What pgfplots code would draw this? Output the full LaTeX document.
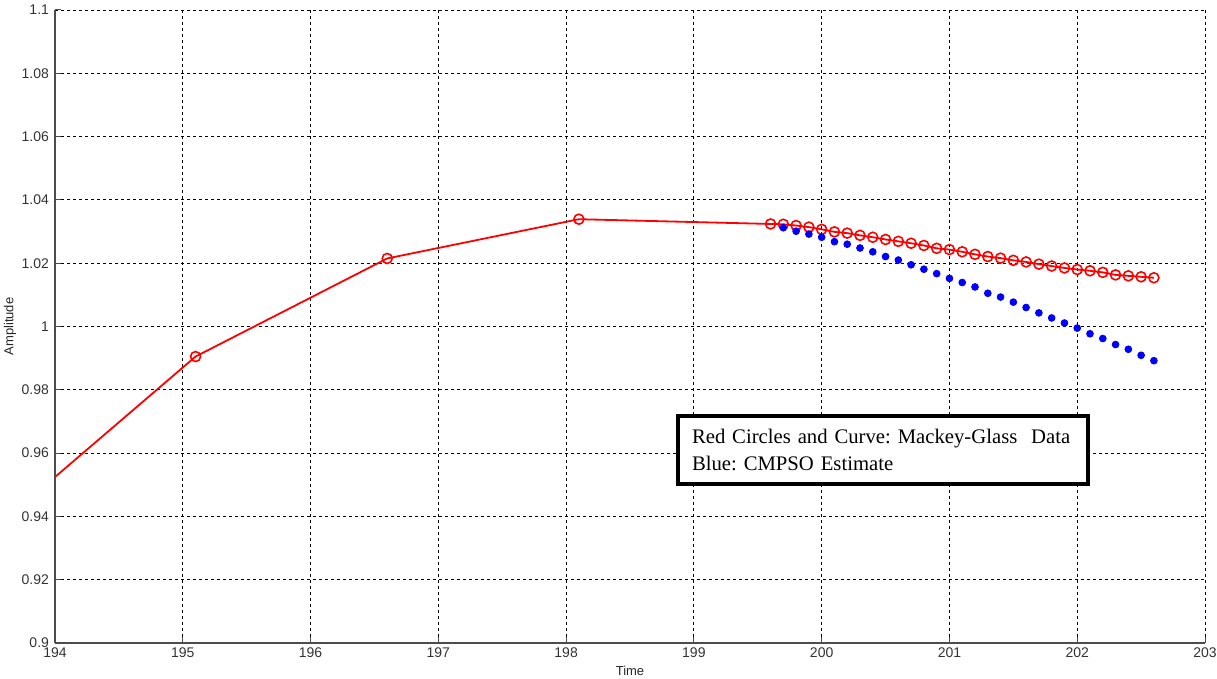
\documentclass[border=0pt]{standalone}
\usepackage{pgfplots}
\pgfplotsset{compat=1.18}
\usepackage{fontspec}
\setmainfont{Liberation Sans}
\newfontfamily\timesfont{Liberation Serif}
\frenchspacing
\begin{document}
\begin{tikzpicture}
\begin{axis}[
  width=575pt, height=316.5pt, scale only axis,
  xmin=194, xmax=203, ymin=0.9, ymax=1.1,
  xtick={194,195,...,203},
  ytick={0.9,0.92,0.94,0.96,0.98,1,1.02,1.04,1.06,1.08,1.1},
  yticklabels={0.9,0.92,0.94,0.96,0.98,1,1.02,1.04,1.06,1.08,1.1},
  axis lines=left, axis line style={-, draw=black!70, line width=0.6pt},
  tick align=inside, major tick length=3pt,
  tick style={black!70, line width=0.5pt},
  grid=major,
  major grid style={black, line width=0.4pt, dash pattern=on 1.5pt off 1.5pt},
  ticklabel style={font=\fontsize{7}{8}\selectfont, text=black!80},
  /pgf/number format/assume math mode=true,
  xticklabel style={yshift=1pt},
  yticklabel style={xshift=0.5pt},
  xlabel={Time}, ylabel={Amplitude},
  label style={font=\fontsize{6.5}{8}\selectfont, text=black!85},
  xlabel style={yshift=3pt},
  ylabel style={yshift=-4pt},
  clip=true,
]
\addplot[red, line width=0.9pt, mark=o, mark size=2.5pt, mark options={line width=0.8pt}] coordinates {
(193.6,0.9386) (195.1,0.9905) (196.6,1.0215) (198.1,1.0339)
(199.6,1.0324) (199.7,1.0323) (199.8,1.0319) (199.9,1.0314) (200.0,1.0307)
(200.1,1.0299) (200.2,1.0295) (200.3,1.0288) (200.4,1.0282) (200.5,1.0275)
(200.6,1.0269) (200.7,1.0263) (200.8,1.0256) (200.9,1.0247) (201.0,1.0243)
(201.1,1.0236) (201.2,1.0228) (201.3,1.0221) (201.4,1.0216) (201.5,1.0209)
(201.6,1.0204) (201.7,1.0197) (201.8,1.0191) (201.9,1.0185) (202.0,1.0180)
(202.1,1.0176) (202.2,1.0171) (202.3,1.0163) (202.4,1.0160) (202.5,1.0157)
(202.6,1.0154)
};
\addplot[only marks, blue, mark=*, mark size=1.7pt] coordinates {
(199.7,1.0312) (199.8,1.0301) (199.9,1.0292) (200.0,1.0282)
(200.1,1.0268) (200.2,1.0260) (200.3,1.0248) (200.4,1.0236) (200.5,1.0221)
(200.6,1.0210) (200.7,1.0195) (200.8,1.0181) (200.9,1.0167) (201.0,1.0152)
(201.1,1.0139) (201.2,1.0125) (201.3,1.0105) (201.4,1.0093) (201.5,1.0077)
(201.6,1.0060) (201.7,1.0043) (201.8,1.0027) (201.9,1.0011) (202.0,0.9995)
(202.1,0.9977) (202.2,0.9962) (202.3,0.9943) (202.4,0.9928) (202.5,0.9909)
(202.6,0.9892)
};
\node[draw=black, line width=2pt, fill=white, inner xsep=7pt, inner ysep=0pt,
  text width=191pt, minimum height=34pt,
  font=\timesfont\fontsize{10.35}{13.2}\selectfont, align=left]
  at (rel axis cs:0.72,0.305) {\mbox{Red Circles and Curve: Mackey-Glass\ \ Data}\\Blue: CMPSO Estimate};
\end{axis}
\path (current axis.south west) ++(-27.5pt,-18pt) coordinate (a);
\path (current axis.north east) ++(6pt,5pt) coordinate (b);
\pgfresetboundingbox
\path[use as bounding box] (a) rectangle (b);
\end{tikzpicture}
\end{document}
